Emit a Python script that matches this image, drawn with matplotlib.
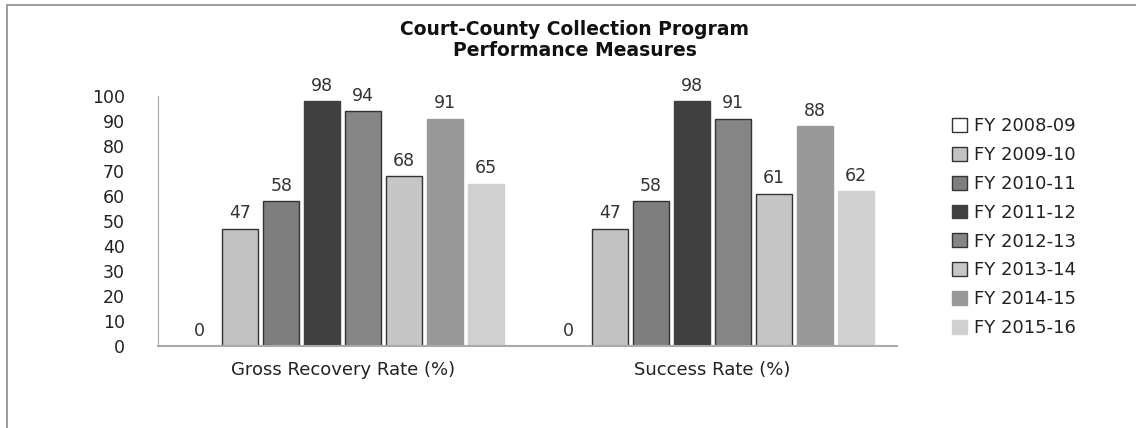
import matplotlib
matplotlib.use("Agg")
import matplotlib.pyplot as plt
import numpy as np
from matplotlib.patches import Rectangle

categories = ["Gross Recovery Rate (%)", "Success Rate (%)"]
series_names = ["FY 2008-09", "FY 2009-10", "FY 2010-11", "FY 2011-12",
                "FY 2012-13", "FY 2013-14", "FY 2014-15", "FY 2015-16"]
values = [
    [0, 0],
    [47, 47],
    [58, 58],
    [98, 98],
    [94, 91],
    [68, 61],
    [91, 88],
    [65, 62],
]
yticks = [0, 10, 20, 30, 40, 50, 60, 70, 80, 90, 100]
title = "Court-County Collection Program\nPerformance Measures"

colors = ["#ffffff", "#c2c2c2", "#7e7e7e", "#404040", "#858585", "#c6c6c6", "#999999", "#d0d0d0"]
edges = ["#333333", "#333333", "#333333", "#404040", "#333333", "#333333", "#999999", "#d0d0d0"]

plt.rcParams['font.family'] = ['DejaVu Sans']
fig = plt.figure(figsize=(11.36, 4.28), dpi=100)
ax = fig.add_axes([158/1136, 82/428, 739/1136, 250/428])

x = np.arange(len(categories))
slot = 0.111
bw = 0.0975
n = len(series_names)
for i, (name, vals) in enumerate(zip(series_names, values)):
    offs = (i - (n - 1) / 2) * slot
    ax.bar(x + offs, vals, width=bw, color=colors[i], edgecolor=edges[i],
           linewidth=1.0, label=name)
    for xi, v in zip(x + offs, vals):
        ax.text(xi, v + 2.5, str(v), ha="center", va="bottom", fontsize=12.5, color="#333333")

ax.set_xlim(-0.5, 1.5)
ax.set_ylim(0, 100)
ax.set_yticks(yticks)
ax.set_yticklabels([str(t) for t in yticks], fontsize=12.5, color="#222222")
ax.set_xticks(x)
ax.set_xticklabels(categories, fontsize=13, color="#222222")
ax.tick_params(axis="both", length=0)
ax.tick_params(axis="y", pad=24)
ax.tick_params(axis="x", pad=11)
for s in ["top", "right"]:
    ax.spines[s].set_visible(False)
ax.spines["left"].set_color("#aaaaaa")
ax.spines["bottom"].set_color("#aaaaaa")
ax.spines["bottom"].set_linewidth(1.5)

fig.text(575/1136, 1 - 40/428, title, ha="center", va="center", fontsize=13.5,
         fontweight="bold", color="#111111", linespacing=1.15)

leg = fig.legend(loc="upper left", bbox_to_anchor=(945/1136, 1 - 110/428), frameon=False,
                 fontsize=13, handlelength=0.8, handleheight=0.8, handletextpad=0.4,
                 labelspacing=0.6, borderaxespad=0)
for t in leg.get_texts():
    t.set_color("#222222")

fig.patches.append(Rectangle((7/1136, -0.1), 1.2, 1 - 5/428 + 0.1, transform=fig.transFigure,
                             fill=False, edgecolor="#8c8c8c", linewidth=1.2))

fig.savefig("out.png", dpi=100, facecolor="white")
